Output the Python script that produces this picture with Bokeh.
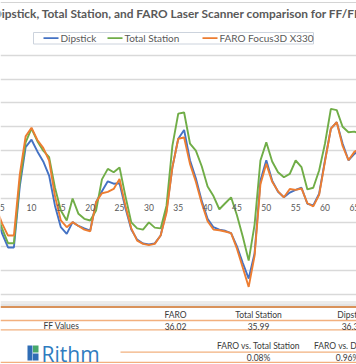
from bokeh.plotting import figure
from bokeh.models import Range1d, Grid, FixedTicker, Span
from bokeh.embed import file_html
from bokeh.resources import INLINE
from bokeh.core.properties import value

# ---------------- data ----------------
station = list(range(4, 67))
dipstick = [-0.8, -1.47, -2.05, -2.05, 0.5, 2.15, 2.46, 1.97, 1.55, 0.96,
            -0.3, -1.2, -1.48, -0.99, -1.15, -1.25, -1.34, -0.15, 0.3, 0.72,
            0.62, 0.64, -0.4, -1.3, -1.72, -1.88, -1.92, -1.88, -1.55, -0.5,
            1.3, 2.5, 2.87, 1.6, 0.85, -0.1, -0.85, -1.2, -1.3, -1.35,
            -1.45, -2.0, -2.7, -3.35, -2.3, 0.75, 1.6, 0.75, 0.28, 0.05,
            0.25, 0.36, 0.45, -0.22, -0.29, 0.2, 1.6, 2.92, 3.19, 2.3,
            1.6, 1.87, 2.0]
total_station = [-0.6, -1.26, -1.87, -1.87, 0.7, 2.35, 2.92, 2.4, 2.0, 1.73,
                 0.45, -0.5, -0.92, 0.0, -0.64, -0.85, -0.92, -0.5, 0.8, 1.24,
                 1.1, 1.3, 0.1, -1.0, -1.25, -1.3, -1.0, -1.22, -1.25, -0.3,
                 2.2, 3.55, 3.6, 2.3, 2.0, 1.35, 0.5, 0.1, -0.45, -0.2,
                 0.05, -0.7, -1.6, -2.6, -1.1, 1.59, 2.35, 1.55, 1.1, 0.89,
                 1.03, 1.59, 1.31, 0.38, 0.45, 1.17, 2.3, 3.75, 3.7, 3.0,
                 2.77, 2.8, 2.7]
faro = [-0.4, -1.05, -1.55, -1.55, 1.0, 2.6, 2.96, 2.45, 2.12, 1.59,
        0.1, -0.92, -1.2, -0.99, -1.15, -1.3, -1.37, -0.15, 0.22, 0.28,
        0.4, 0.82, -0.3, -1.25, -1.76, -1.9, -1.95, -1.9, -1.55, -0.6,
        1.3, 2.5, 2.55, 1.45, 0.7, -0.2, -0.95, -1.3, -1.33, -1.38,
        -1.45, -2.1, -2.9, -3.7, -2.4, 0.6, 1.45, 0.7, 0.3, 0.05,
        0.4, 0.36, 0.42, -0.2, -0.33, 0.15, 1.55, 2.92, 3.19, 2.2,
        1.6, 1.95, 2.1]
series_names = ["Dipstick", "Total Station", "FARO Focus3D X330"]
tick_pos = [5, 10, 15, 20, 25, 30, 35, 40, 45, 50, 55, 60, 65]
tick_labels = [str(t) for t in tick_pos]
grid_vals = [-4, -3, -2, -1, 0, 1, 2, 3, 4, 5, 6]
title_text = "Dipstick, Total Station, and FARO Laser Scanner comparison for FF/FL"
table_cols = ["FARO", "Total Station", "Dipstick"]
ff_row_label = "FF Values"
ff_values = ["36.02", "35.99", "36.37"]
cmp_cols = ["FARO vs. Total Station", "FARO vs. Dipstick"]
cmp_values = ["0.08%", "0.96%"]

# ---------------- layout ----------------
W, H = 356, 364
X0PX, XSTEP = 31.0, 5.87      # pixel of station 10, pixels per station
Y0PX, YSTEP = 198.0, 23.9     # pixel of value 0, pixels per unit


def px2x(px):
    return 10 + (px - X0PX) / XSTEP


def px2y(py):
    return (Y0PX - py) / YSTEP


BLUE, GREEN, ORANGE = "#4472C4", "#70AD47", "#ED7D31"
GRAY = "#595959"

p = figure(width=W, height=H, x_range=Range1d(px2x(0), px2x(W)),
           y_range=Range1d(px2y(H), px2y(0)), x_axis_type=None, y_axis_type=None,
           toolbar_location=None, output_backend="svg", min_border=0,
           outline_line_color=None, background_fill_color="white",
           border_fill_color="white")

p.add_layout(Grid(dimension=1, ticker=FixedTicker(ticks=grid_vals),
                  grid_line_color="#d9d9d9", grid_line_width=1.3))
p.add_layout(Span(location=px2y(2), dimension="width", line_color="#d4d4d4", line_width=1))


def txt(px, py, s, size, color=GRAY, align="center", bold=False, font="Lato",
        baseline="middle"):
    p.text([px2x(px)], [px2y(py)], text=[s], text_align=align, text_baseline=baseline,
           text_font_size=f"{size}px", text_color=color, text_font=value(font),
           text_font_style="bold" if bold else "normal")


# series
for ys, c in zip([dipstick, total_station, faro], [BLUE, GREEN, ORANGE]):
    p.line(station, ys, line_color=c, line_width=1.9)

# category labels along zero line
p.text(tick_pos, [0] * len(tick_pos), text=tick_labels, text_align="center",
       text_baseline="middle", y_offset=9, text_font_size="8.5px",
       text_color=GRAY, text_font=value("Lato"))

# title
txt(-7.8, 13, title_text, 11.9, color=GRAY, align="left", bold=True)

# legend (manual)
p.quad(left=[px2x(33)], right=[px2x(313)], top=[px2y(32)], bottom=[px2y(43.5)],
       fill_color="white", line_color="#ccd3dd", line_width=1)
leg_glyph_px = [43, 107, 202]
for gx, name, c in zip(leg_glyph_px, series_names, [BLUE, GREEN, ORANGE]):
    p.segment(x0=[px2x(gx)], x1=[px2x(gx + 15)], y0=[px2y(37.7)], y1=[px2y(37.7)],
              line_color=c, line_width=1.8)
    txt(gx + 17, 37.7, name, 10, align="left")

# table
p.segment(x0=[px2x(0)], x1=[px2x(W)], y0=[px2y(302)], y1=[px2y(302)],
          line_color="#ececec", line_width=3)
p.segment(x0=[px2x(0)], x1=[px2x(W)], y0=[px2y(304.5)], y1=[px2y(304.5)],
          line_color="#c8c8c8", line_width=1)
p.segment(x0=[px2x(0)], x1=[px2x(W)], y0=[px2y(306.5)], y1=[px2y(306.5)],
          line_color="#d9925a", line_width=2)
for ly in [320, 329.3, 361.8]:
    p.segment(x0=[px2x(0)], x1=[px2x(W)], y0=[px2y(ly)], y1=[px2y(ly)],
              line_color="#f2b07e", line_width=1.3)
p.segment(x0=[px2x(120)], x1=[px2x(W)], y0=[px2y(351.7)], y1=[px2y(351.7)],
          line_color="#f2b07e", line_width=1.3)

col_px = [175, 258, 352]
TXT = "#3a3a3a"
for cx, h, v in zip(col_px, table_cols, ff_values):
    txt(cx, 314, h, 8.5, color=TXT)
    txt(cx, 325.5, v, 8.5, color=TXT)
txt(61, 325.5, ff_row_label, 8.5, color=TXT)
for cx, h, v in zip([258, 347], cmp_cols, cmp_values):
    txt(cx, 345, h, 8.5, color=TXT)
    txt(cx, 357, v, 8.5, color=TXT)

# logo
p.quad(left=[px2x(27)], right=[px2x(32)], top=[px2y(345)], bottom=[px2y(360)],
       fill_color="#2f6db5", line_color=None)
p.quad(left=[px2x(32.5)], right=[px2x(38)], top=[px2y(345)], bottom=[px2y(352)],
       fill_color="#47a86b", line_color=None)
p.quad(left=[px2x(32.5)], right=[px2x(38)], top=[px2y(353)], bottom=[px2y(360)],
       fill_color="#2f6db5", line_color=None)
txt(41, 353, "Rithm", 21, color="#2f7cc0", align="left", font="Open Sans")

open("out.html", "w").write(file_html(p, INLINE))
